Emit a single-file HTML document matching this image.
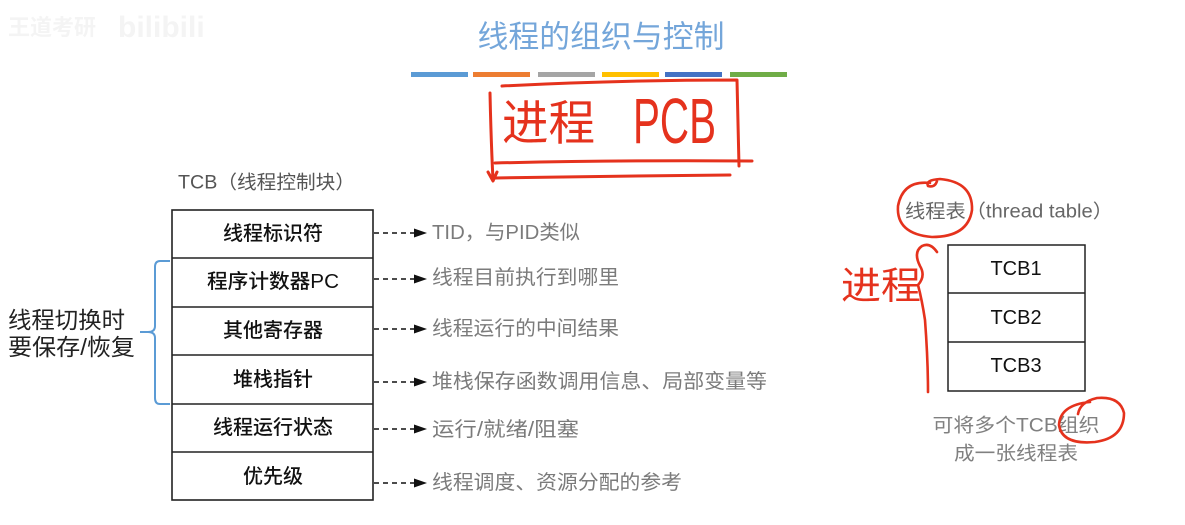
<!DOCTYPE html>
<html>
<head>
<meta charset="utf-8">
<style>
  html,body{margin:0;padding:0;background:#fff;}
  body{width:1185px;height:525px;overflow:hidden;}
  svg{display:block;}
  .cjk{font-family:"Liberation Sans","Noto Sans CJK SC",sans-serif;}
</style>
</head>
<body>
<svg width="1185" height="525" viewBox="0 0 1185 525" xmlns="http://www.w3.org/2000/svg" class="cjk">
  <!-- watermark -->
  <text x="8" y="35" font-size="22" fill="#f4f4f4" font-weight="bold" font-family="Liberation Sans, Noto Sans CJK SC, sans-serif">王道考研</text>
  <text x="118" y="37" font-size="30" fill="#f4f4f4" font-weight="bold" font-family="Liberation Sans, sans-serif">bilibili</text>

  <!-- title -->
  <text x="601" y="37" font-size="31" fill="#74a6da" text-anchor="middle" dominant-baseline="central" textLength="247" lengthAdjust="spacingAndGlyphs">线程的组织与控制</text>

  <!-- colour bars -->
  <rect x="411" y="72" width="57" height="5" fill="#5b9bd5"/>
  <rect x="473" y="72" width="57" height="5" fill="#ed7d31"/>
  <rect x="538" y="72" width="57" height="5" fill="#a5a5a5"/>
  <rect x="602" y="72" width="57" height="5" fill="#ffc000"/>
  <rect x="665" y="72" width="57" height="5" fill="#4472c4"/>
  <rect x="730" y="72" width="57" height="5" fill="#70ad47"/>

  <!-- TCB label -->
  <text x="178" y="183" font-size="19" fill="#555" dominant-baseline="central" textLength="177" lengthAdjust="spacingAndGlyphs">TCB（线程控制块）</text>

  <!-- TCB table -->
  <g fill="none" stroke="#222" stroke-width="1.6">
    <rect x="172" y="210" width="201" height="290"/>
    <line x1="172" y1="258" x2="373" y2="258"/>
    <line x1="172" y1="307" x2="373" y2="307"/>
    <line x1="172" y1="355" x2="373" y2="355"/>
    <line x1="172" y1="404" x2="373" y2="404"/>
    <line x1="172" y1="452" x2="373" y2="452"/>
  </g>
  <g font-size="20" fill="#111" font-weight="500" text-anchor="middle" dominant-baseline="central">
    <text x="273" y="234">线程标识符</text>
    <text x="273" y="282" textLength="132" lengthAdjust="spacingAndGlyphs">程序计数器PC</text>
    <text x="273" y="331">其他寄存器</text>
    <text x="273" y="380">堆栈指针</text>
    <text x="273" y="428">线程运行状态</text>
    <text x="273" y="477">优先级</text>
  </g>

  <!-- dashed arrows -->
  <g stroke="#111" stroke-width="1.5" stroke-dasharray="5,4" fill="none">
    <line x1="374" y1="233" x2="416" y2="233"/>
    <line x1="374" y1="279" x2="416" y2="279"/>
    <line x1="374" y1="329" x2="416" y2="329"/>
    <line x1="374" y1="382" x2="416" y2="382"/>
    <line x1="374" y1="429" x2="416" y2="429"/>
    <line x1="374" y1="483" x2="416" y2="483"/>
  </g>
  <g fill="#111">
    <polygon points="414,228.5 427,233 414,237.5"/>
    <polygon points="414,274.5 427,279 414,283.5"/>
    <polygon points="414,324.5 427,329 414,333.5"/>
    <polygon points="414,377.5 427,382 414,386.5"/>
    <polygon points="414,424.5 427,429 414,433.5"/>
    <polygon points="414,478.5 427,483 414,487.5"/>
  </g>
  <g font-size="20" fill="#7b7b7b" dominant-baseline="central">
    <text x="432" y="233" textLength="148" lengthAdjust="spacingAndGlyphs">TID，与PID类似</text>
    <text x="432" y="278" textLength="187" lengthAdjust="spacingAndGlyphs">线程目前执行到哪里</text>
    <text x="432" y="329" textLength="187" lengthAdjust="spacingAndGlyphs">线程运行的中间结果</text>
    <text x="432" y="382" textLength="335" lengthAdjust="spacingAndGlyphs">堆栈保存函数调用信息、局部变量等</text>
    <text x="432" y="430" textLength="147" lengthAdjust="spacingAndGlyphs">运行/就绪/阻塞</text>
    <text x="432" y="483" textLength="250" lengthAdjust="spacingAndGlyphs">线程调度、资源分配的参考</text>
  </g>

  <!-- brace -->
  <path d="M170,261 L160,261 Q155,261 155,267 L155,326 Q155,332 148,332 L140,332 L148,332 Q155,332 155,338 L155,398 Q155,404 160,404 L170,404" fill="none" stroke="#5b9bd5" stroke-width="2"/>

  <!-- left label -->
  <g font-size="23" fill="#222" dominant-baseline="central">
    <text x="8" y="320" textLength="117" lengthAdjust="spacingAndGlyphs">线程切换时</text>
    <text x="8" y="347" textLength="127" lengthAdjust="spacingAndGlyphs">要保存/恢复</text>
  </g>

  <!-- thread table -->
  <text x="905" y="212" font-size="19" fill="#666" dominant-baseline="central" textLength="208" lengthAdjust="spacingAndGlyphs">线程表（thread table）</text>
  <g fill="none" stroke="#222" stroke-width="1.5">
    <rect x="948" y="245" width="137" height="146"/>
    <line x1="948" y1="293" x2="1085" y2="293"/>
    <line x1="948" y1="342" x2="1085" y2="342"/>
  </g>
  <g font-size="20" fill="#111" text-anchor="middle" dominant-baseline="central" font-family="Liberation Sans, sans-serif">
    <text x="1016" y="269">TCB1</text>
    <text x="1016" y="318">TCB2</text>
    <text x="1016" y="366">TCB3</text>
  </g>
  <g font-size="19" fill="#808080" text-anchor="middle" dominant-baseline="central">
    <text x="1016" y="426" textLength="167" lengthAdjust="spacingAndGlyphs">可将多个TCB组织</text>
    <text x="1016" y="454" textLength="124" lengthAdjust="spacingAndGlyphs">成一张线程表</text>
  </g>

  <!-- red handwriting: top box -->
  <g fill="none" stroke="#e5321d" stroke-width="3" stroke-linecap="round" stroke-linejoin="round">
    <path d="M502,86 Q620,80 737,80 L739,166"/>
    <path d="M490,93 Q491,140 493,180 M488,172 L493,181 L497,172"/>
    <path d="M495,163 Q620,160 752,161"/>
    <path d="M495,178 Q610,176 730,175"/>
  </g>
  <text x="502" y="124" font-size="48" fill="#e5321d" dominant-baseline="central" textLength="93" lengthAdjust="spacingAndGlyphs">进程</text>
  <text x="633" y="121" font-size="64" fill="#e5321d" dominant-baseline="central" font-family="Liberation Sans, sans-serif" textLength="83" lengthAdjust="spacingAndGlyphs">PCB</text>

  <!-- red annotations right -->
  <g fill="none" stroke="#e5321d" stroke-width="2.6" stroke-linecap="round" stroke-linejoin="round">
    <path d="M930,183 Q903,180 898,206 Q896,234 932,237 Q968,237 972,210 Q973,182 940,179 Q925,180 928,186 Q935,188 937,181"/>
    <path d="M937,252 Q930,242 922,246 Q913,252 920,266 Q926,276 918,285 Q922,300 925,320 Q928,360 928,392"/>
    <path d="M1090,402 Q1060,405 1059,425 Q1062,445 1095,442 Q1124,438 1124,413 Q1120,396 1097,398 Q1080,402 1078,414"/>
  </g>
  <text x="841" y="287" font-size="38" fill="#e5321d" dominant-baseline="central" textLength="80" lengthAdjust="spacingAndGlyphs">进程</text>
</svg>
</body>
</html>
